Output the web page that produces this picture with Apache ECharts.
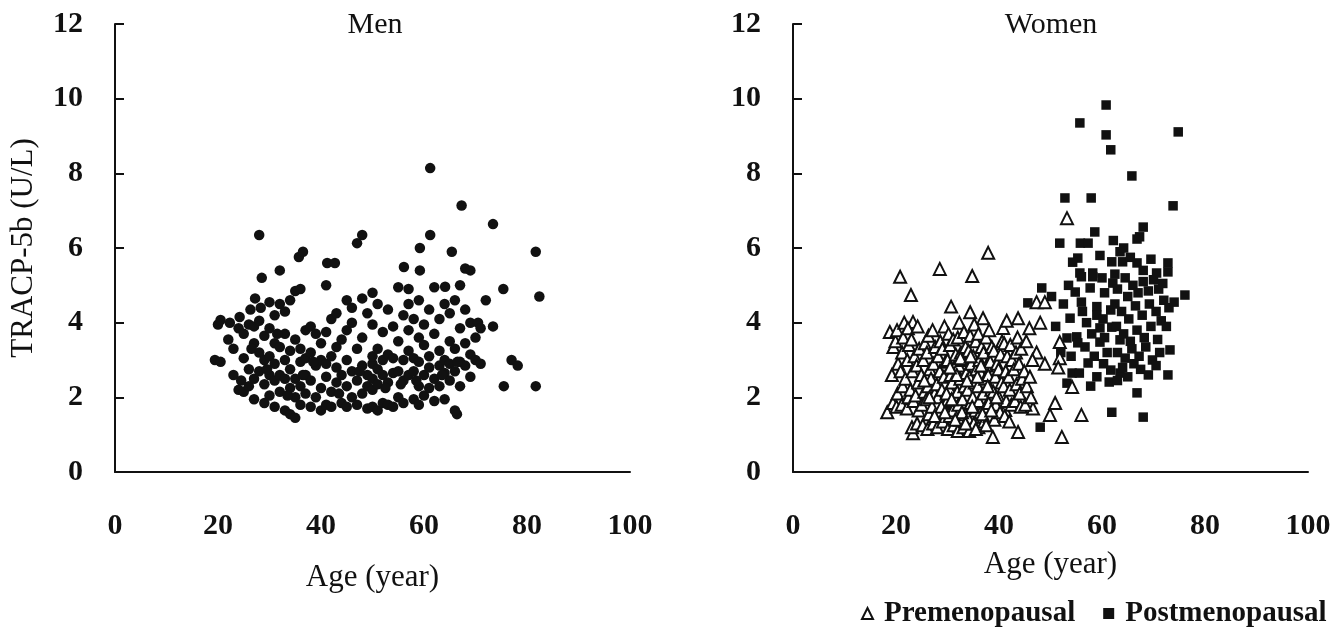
<!DOCTYPE html>
<html>
<head>
<meta charset="utf-8">
<script src="https://cdn.jsdelivr.net/npm/echarts@6/dist/echarts.min.js"></script>
<style>
  html, body { margin: 0; padding: 0; background: #fff; }
  #chart { width: 1342px; height: 636px; }
</style>
</head>
<body>
<div id="chart"></div>
<script>
// 数据：[年龄, TRACP-5b]
const menData = [
  [19.4,3.0],[20.5,2.95],[20,3.95],[20.5,4.07],[22,3.55],[22.3,4.0],[23,2.6],[23,3.3],[24,2.2],[24,3.85],[24.2,4.15],
  [25,2.15],[25,3.05],[25,3.7],[26,2.3],[26,2.75],[26,3.95],[26.3,4.35],[27,1.95],[27,2.5],[27,3.45],[27,3.9],[27.2,4.65],
  [28,6.35],[28,2.7],[28,3.2],[28,4.05],[28.3,4.4],[29,1.85],[29,2.35],[29,3.0],[29,3.65],[28.5,5.2],[30,2.05],[30,2.6],
  [30,3.1],[30,3.85],[30,4.55],[31,1.75],[31,2.45],[31,2.9],[31,3.45],[31,4.2],[32,2.15],[32,2.6],[32,3.35],[32,4.5],
  [32,5.4],[33,1.65],[33,2.5],[33,3.0],[33,3.7],[33,4.3],[34,1.55],[34,2.25],[34,2.75],[34,3.25],[34,4.6],[35,1.45],
  [35,2.0],[35,2.5],[35,3.55],[35,4.85],[35.7,5.76],[36,1.8],[36,2.3],[36,2.95],[36,3.3],[36,4.9],[36.5,5.9],[37,2.1],
  [37,2.6],[37,3.05],[37,3.8],[38,1.75],[38,2.45],[38,3.2],[38,3.9],[39,2.0],[39,2.85],[39,3.7],[40,1.65],[40,2.25],
  [40,3.0],[40,3.45],[41,5.0],[41,1.8],[41,2.55],[41,2.9],[41,3.75],[41.2,5.6],[42,1.75],[42,2.15],[42,3.1],[42,4.1],
  [42.7,5.6],[43,2.4],[43,2.8],[43,3.35],[43,4.25],[44,1.85],[44,2.6],[44,3.55],[45,1.75],[45,2.3],[45,3.0],[45,3.8],
  [45,4.6],[46,2.0],[46,2.7],[46,4.0],[46,4.4],[47,1.8],[47,2.45],[47,3.3],[47,6.13],[48,2.1],[48,2.85],[48,3.6],
  [48,4.65],[48,6.35],[49,1.7],[49,2.3],[49,2.6],[49,4.25],[50,1.75],[50,2.2],[50,2.5],[50,2.9],[50,3.1],[50,3.95],
  [50,4.8],[51,1.65],[51,2.35],[51,2.75],[51,3.3],[51,4.5],[52,1.85],[52,2.6],[52,3.0],[52,3.75],[53,1.8],[53,2.4],
  [53,3.15],[53,4.35],[54,1.75],[54,2.65],[54,3.05],[54,3.9],[55,2.0],[55,2.7],[55,3.5],[55,4.95],[56.1,5.49],[56,1.85],
  [56,2.45],[56,3.0],[56,4.2],[57,4.9],[57,2.6],[57,3.25],[57,3.8],[57,4.5],[58,1.95],[58,2.7],[58,3.05],[58,4.1],
  [59,1.8],[59,2.3],[59,2.95],[59,3.6],[59,4.6],[59.2,6.0],[59.2,5.4],[60,2.05],[60,2.6],[60,3.4],[60,3.95],[61.2,6.35],
  [61.2,8.14],[61,2.25],[61,2.8],[61,3.1],[61,4.35],[62,1.9],[62,2.5],[62,3.7],[62,4.95],[63,2.3],[63,2.85],[63,3.25],
  [63,4.1],[64,1.95],[64,2.65],[64,3.0],[64,4.5],[64.1,4.96],[65.4,5.9],[65,2.45],[65,2.9],[65,3.5],[65,4.25],[66.4,1.55],
  [66,1.65],[66,2.7],[66,3.3],[66,4.6],[67.3,7.14],[67,2.3],[67,2.95],[67,3.85],[67,5.0],[68,5.45],[69,5.4],[68,2.85],
  [68,3.45],[68,4.35],[69,2.55],[69,3.15],[69,4.0],[70,3.0],[70,3.6],[70.5,4.0],[71,2.9],[71,3.85],[72,4.6],[73.4,6.64],
  [73.4,3.9],[75.4,4.9],[75.5,2.3],[77,3.0],[78.2,2.85],[81.7,2.3],[81.7,5.9],[82.4,4.7],
  [24.5,2.45],[26.5,3.3],[29.5,2.75],[31.5,3.7],[33.5,2.05],[36.5,2.6],[38.5,2.95],[43.5,2.1],[47.5,2.7],[52.5,2.25],
  [55.5,2.35],[58.5,2.45],[63.5,2.6],[66.5,2.95]
];

const preData = [
  [20.8,5.23],[22.9,4.74],[28.5,5.44],[34.8,5.25],[37.9,5.87],[30.7,4.43],[34.4,4.28],[36.9,4.12],[23.3,4.02],[53.2,6.8],
  [40.8,3.86],[43.7,4.12],[47.3,4.55],[48.9,4.55],[48,4.0],[51.8,3.48],[51.8,3.05],[47.3,3.2],[48.9,2.9],[51.5,2.8],
  [54.2,2.28],[56,1.53],[49.9,1.53],[50.9,1.85],[52.2,0.94],[43.7,1.07],[46.6,1.7],[41.2,1.66],[38.8,0.94],[23.3,1.04],
  [18.3,1.6],[19.4,1.85],
  [19.2,2.6],[19.5,3.35],[18.8,3.75],[20.1,1.75],[20.3,2.1],[20.4,2.9],[19.9,3.5],[20.2,3.8],
  [21.1,1.8],[21.3,2.3],[20.9,2.7],[21.2,3.2],[21.4,3.6],[21.6,4.0],
  [22.1,1.7],[22.4,2.0],[21.8,2.5],[22.2,3.0],[22.5,3.4],[22.3,3.85],
  [23.1,1.2],[23.4,1.9],[22.8,2.2],[23.2,2.7],[23.6,3.1],[23.0,3.55],
  [24.1,1.3],[24.4,1.65],[23.8,2.05],[24.3,2.4],[24.0,2.85],[24.5,3.3],[24.2,3.9],
  [25.2,1.25],[25.0,1.8],[25.5,2.15],[24.9,2.6],[25.3,3.0],[25.6,3.45],
  [26.1,1.15],[26.4,1.55],[25.9,1.95],[26.2,2.3],[26.6,2.75],[26.0,3.2],[26.3,3.65],
  [27.2,1.3],[27.0,1.75],[27.5,2.1],[26.8,2.5],[27.3,2.9],[27.6,3.35],[27.1,3.8],
  [28.0,1.2],[28.4,1.6],[28.1,2.0],[27.9,2.35],[28.5,2.7],[28.2,3.1],[28.6,3.5],
  [29.1,1.35],[29.4,1.85],[28.9,2.2],[29.3,2.55],[29.6,2.95],[29.0,3.3],[29.4,3.9],
  [30.1,1.15],[30.4,1.5],[29.9,1.9],[30.3,2.25],[30.6,2.6],[30.0,3.0],[30.5,3.4],[30.2,3.7],
  [31.2,1.25],[31.0,1.65],[31.5,2.05],[30.9,2.4],[31.3,2.8],[31.6,3.15],[31.1,3.55],
  [32.0,1.1],[32.4,1.4],[32.1,1.8],[31.9,2.15],[32.5,2.5],[32.2,2.85],[32.6,3.2],[32.0,3.6],[32.3,4.0],
  [33.1,1.2],[33.4,1.55],[32.9,1.95],[33.3,2.3],[33.6,2.65],[33.0,3.0],[33.5,3.35],[33.2,3.75],
  [34.2,1.1],[34.0,1.45],[34.5,1.85],[33.9,2.2],[34.3,2.55],[34.6,2.9],[34.1,3.25],[34.4,3.65],
  [35.1,1.3],[35.4,1.65],[34.9,2.0],[35.3,2.4],[35.6,2.75],[35.0,3.1],[35.5,3.5],[35.2,3.95],
  [36.0,1.2],[36.4,1.6],[36.1,1.9],[35.9,2.3],[36.5,2.65],[36.2,3.0],[36.6,3.35],[36.0,3.7],
  [37.1,1.35],[37.4,1.75],[36.9,2.1],[37.3,2.5],[37.6,2.85],[37.0,3.2],[37.5,3.6],
  [38.2,1.5],[38.0,1.85],[38.5,2.2],[37.9,2.6],[38.3,2.95],[38.6,3.35],[38.1,3.8],
  [39.1,1.4],[39.4,1.8],[38.9,2.15],[39.3,2.55],[39.6,2.9],[39.0,3.25],
  [40.2,1.6],[40.0,2.0],[40.5,2.4],[39.9,2.75],[40.3,3.15],[40.6,3.5],
  [41.1,1.5],[41.4,1.9],[40.9,2.3],[41.3,2.7],[41.6,3.1],[41.0,3.45],[41.5,4.05],
  [42.0,1.35],[42.4,1.8],[42.1,2.2],[41.9,2.55],[42.5,3.0],[42.2,3.4],
  [43.1,1.9],[43.4,2.35],[42.9,2.75],[43.3,3.2],[43.6,3.6],
  [44.2,1.75],[44.0,2.1],[44.5,2.5],[43.9,2.9],[44.3,3.3],
  [45.1,1.8],[45.4,2.3],[44.9,2.7],[45.3,3.5],
  [46.2,2.0],[46.0,2.55],[46.5,3.0],[45.9,3.85],
  [28.8,1.75],[29.8,2.1],[30.8,1.95],[31.8,2.6],[32.8,1.6],[33.8,2.45],[34.8,1.75],[35.8,2.55],
  [36.8,1.55],[37.8,2.3],[30.5,2.8],[32.5,3.05],[34.5,3.1],[36.5,2.85],[31.5,1.4],[33.5,1.3],
  [35.5,1.15],[37.5,1.25],[29.5,1.6],[27.5,1.5],[26.5,2.0],[25.5,2.45],[38.5,1.65],[39.5,2.0]
];

const postData = [
  [60.8,9.83],[55.7,9.35],[60.8,9.03],[61.7,8.63],[74.8,9.11],[65.8,7.93],[52.8,7.34],[57.9,7.34],[73.8,7.13],[68,6.56],
  [58.6,6.43],[66.8,6.24],[51.8,6.13],[55.8,6.13],[57.3,6.13],[55.3,5.73],[54.3,5.62],[59.6,5.8],[63.5,5.9],[61.9,5.63],
  [64,5.63],[66.8,5.6],[68,5.4],[72.8,5.6],[72.8,5.36],[70.6,5.33],[55.7,5.33],[58.2,5.33],[56,5.23],[58.2,5.23],
  [62.1,5.06],[54.8,4.82],[57.7,4.93],[56,4.55],[59,4.43],[59,4.2],[61.7,4.34],[48.3,4.93],[45.6,4.53],[53.8,4.12],
  [55.1,3.62],[53.2,3.59],[55.3,3.46],[56.7,3.35],[59.6,3.86],[59.6,3.48],[61.9,3.88],[63.5,3.54],[57.3,2.92],[54.2,2.65],
  [55.6,2.65],[53.2,2.38],[61.4,2.41],[61.7,2.73],[61.9,1.6],[48,1.2],[66.8,2.12],[68,1.47],[63.5,2.65],[76.1,4.74],
  [73.2,3.27],[72.8,2.6],
  [62.5,5.3],[63,4.9],[64.5,5.2],[65,4.7],[66,5.0],[67,4.8],[68,5.1],[69,4.85],[70,5.15],[71,4.9],[72,4.6],
  [62.5,4.5],[63.8,4.3],[65.2,4.1],[66.5,4.45],[67.8,4.2],[69.2,4.5],[70.5,4.3],[71.5,4.05],[72.5,3.9],[62.8,3.9],
  [64.2,3.7],[65.5,3.5],[66.8,3.8],[68.2,3.6],[69.5,3.9],[70.8,3.55],[63,3.2],[64.5,3.05],[65.8,3.3],[67.2,3.1],
  [68.5,3.35],[69.8,3.0],[71.2,3.2],[64,2.8],[66.2,2.9],[67.5,2.75],[69,2.6],[70.5,2.85],[57,4.0],[58,3.7],
  [56.2,4.3],[60.2,4.1],[60.5,4.8],[60,5.2],[61,3.2],[58.5,3.1],[60.3,2.9],[52.5,4.5],[51,3.9],[50.2,4.7],
  [53.5,5.0],[64.2,6.0],[65.5,5.75],[67.3,6.3],[69.5,5.7],[71.8,5.05],[73,4.4],[74,4.55],[62.2,6.2],[63,2.45],
  [65,2.55],[59,2.55],[57.8,2.3],[60.5,3.6],[54,3.1],[52,3.2]
];

const titles = ['Men', 'Women'];
const legendNames = ['Premenopausal', 'Postmenopausal'];

const FONT = "'Liberation Serif', 'DejaVu Serif', serif";
const INK = '#111';

function makeX(gridIndex, nameGap) {
    return {
        gridIndex: gridIndex,
        type: 'value', min: 0, max: 100, interval: 20,
        name: 'Age (year)', nameLocation: 'middle', nameGap: nameGap,
        nameTextStyle: { fontFamily: FONT, fontSize: 31, color: INK },
        axisLine: { show: true, onZero: false, lineStyle: { color: INK, width: 2 } },
        axisTick: { show: false },
        axisLabel: { margin: 39, fontFamily: FONT, fontSize: 30, fontWeight: 'bold', color: INK },
        splitLine: { show: false }
    };
}

function makeY(gridIndex, withName) {
    const y = {
        gridIndex: gridIndex,
        type: 'value', min: 0, max: 12, interval: 2,
        axisLine: { show: true, onZero: false, lineStyle: { color: INK, width: 2 } },
        axisTick: { show: true, inside: true, length: 9, lineStyle: { color: INK, width: 2 } },
        axisLabel: { margin: 32, fontFamily: FONT, fontSize: 30, fontWeight: 'bold', color: INK },
        splitLine: { show: false }
    };
    if (withName) {
        y.name = 'TRACP-5b (U/L)';
        y.nameLocation = 'middle';
        y.nameGap = 76;
        y.nameTextStyle = { fontFamily: FONT, fontSize: 31, color: INK };
    }
    return y;
}

const chart = echarts.init(document.getElementById('chart'), null, { renderer: 'canvas' });

chart.setOption({
    backgroundColor: '#fff',
    animation: false,
    title: [
        { text: titles[0], left: 370, top: 5, textAlign: 'center',
          textStyle: { fontFamily: FONT, fontSize: 30, fontWeight: 'normal', color: INK } },
        { text: titles[1], left: 1046, top: 5, textAlign: 'center',
          textStyle: { fontFamily: FONT, fontSize: 30, fontWeight: 'normal', color: INK } }
    ],
    grid: [
        { left: 115, top: 24, width: 515, height: 448 },
        { left: 793, top: 24, width: 515, height: 448 }
    ],
    xAxis: [makeX(0, 90), makeX(1, 77)],
    yAxis: [makeY(0, true), makeY(1, false)],
    legend: {
        data: legendNames,
        left: 856, top: 594,
        itemWidth: 11, itemHeight: 11, itemGap: 28,
        textStyle: { fontFamily: FONT, fontSize: 29, fontWeight: 'bold', color: INK, padding: [0, 0, 0, 6] }
    },
    series: [
        {
            name: 'Men', type: 'scatter', xAxisIndex: 0, yAxisIndex: 0,
            data: menData, symbol: 'circle', symbolSize: 10.5,
            itemStyle: { color: INK, opacity: 1 }
        },
        {
            name: 'Postmenopausal', type: 'scatter', xAxisIndex: 1, yAxisIndex: 1,
            data: postData, symbol: 'rect', symbolSize: 9.5,
            itemStyle: { color: INK, opacity: 1 }
        },
        {
            name: 'Premenopausal', type: 'scatter', xAxisIndex: 1, yAxisIndex: 1,
            data: preData, symbol: 'triangle', symbolSize: 12,
            itemStyle: { color: '#fff', borderColor: INK, borderWidth: 2, opacity: 1 }
        }
    ]
});
</script>
</body>
</html>
